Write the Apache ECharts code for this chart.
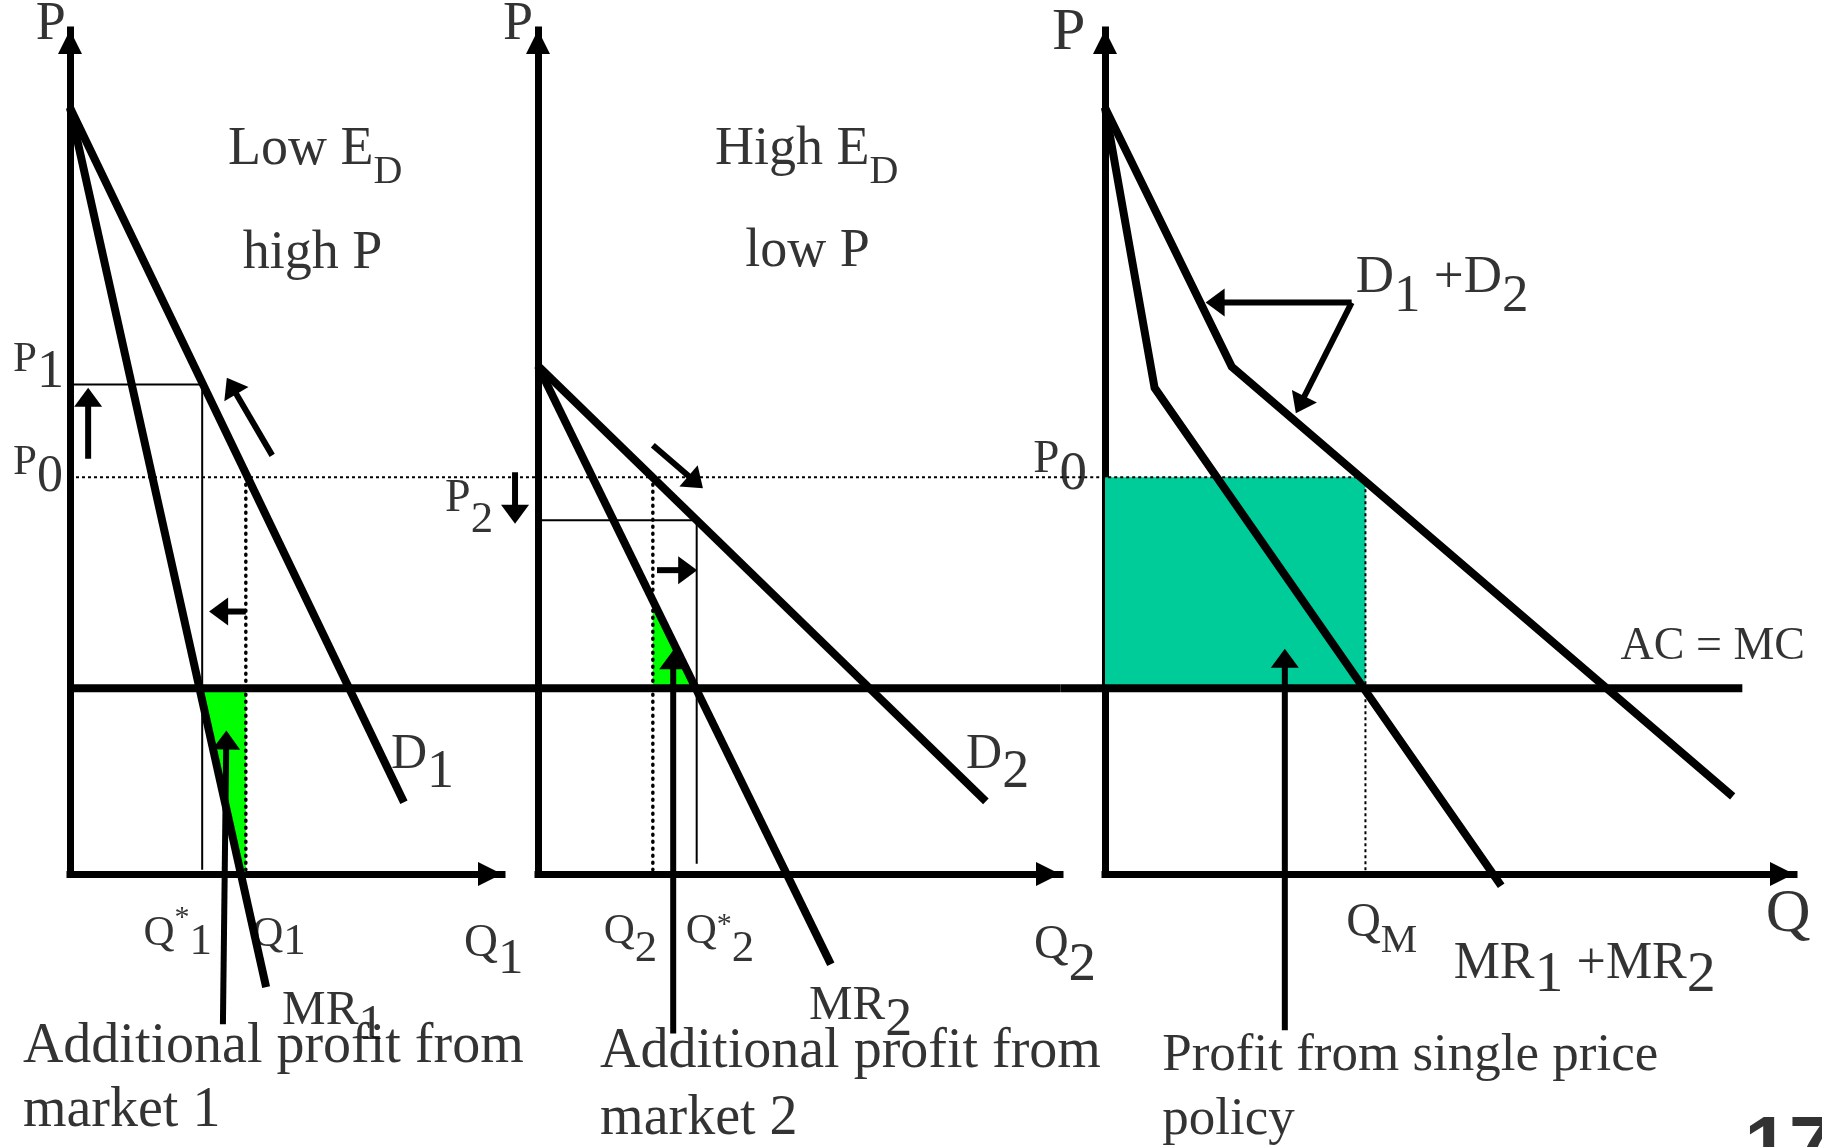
<!DOCTYPE html>
<html>
<head>
<meta charset="utf-8">
<title>Price discrimination between two markets</title>
<script src="https://cdn.jsdelivr.net/npm/echarts@6.0.0/dist/echarts.min.js"></script>
<style>
  html, body { margin: 0; padding: 0; background: #fff; }
  #chart { width: 1822px; height: 1147px; }
</style>
</head>
<body>
<div id="chart"></div>
<script>
// values: Q (quantity) and P (price), every axis runs 0..100
const mcLevel = 22;   // AC = MC
const p0Level = 47;   // single price P0

// market 1 - low elasticity
const d1Q = [0, 77.3];
const d1P = [90.8, 8.5];
const mr1Q = [0, 45.4];
const mr1P = [90.8, -13.4];
const p1Level = 58;
const q1Star = 30.6;
const q1Single = 40.7;
const gain1Q = [30.0, 40.7, 40.7, 39.6];
const gain1P = [22, 22, 0.3, 0.3];

// market 2 - high elasticity
const d2Q = [0, 85.8];
const d2P = [60.2, 8.6];
const mr2Q = [0, 56.1];
const mr2P = [60.2, -10.7];
const p2Level = 41.9;
const q2Star = 30.4;
const q2Single = 22;
const gain2Q = [22, 22, 30.2];
const gain2P = [32.4, 22, 22];

// both markets together
const dSumQ = [0, 18.4, 91.1];
const dSumP = [90.8, 60.1, 9.2];
const mrSumQ = [0, 7.2, 57.5];
const mrSumP = [90.8, 57.6, -1.4];
const qM = 37.8;

// how far the MC line and the dotted P0 line run in each panel (Q units)
const mcSpan = [[0, 100], [-6.9, 100], [-6.5, 92.5]];
const p0Span = [[0, 100], [-6.9, 100], [-6.5, qM]];

// arrows: [q from, p from, q to, p to]
const arrows1 = [[4.2, 49.2, 4.2, 57.6], [46.8, 49.6, 36.3, 58.8], [40.7, 31.1, 32.2, 31.1], [35.4, -17.8, 36.2, 17.0]];
const arrows2 = [[-4.4, 47.6, -4.4, 41.5], [22.0, 50.8, 31.6, 45.7], [22.8, 36.0, 30.5, 36.0], [25.9, -18.9, 25.9, 26.5]];
const arrows3 = [[35.8, 67.7, 14.6, 67.7], [35.8, 67.7, 27.7, 54.6], [26.1, -18.5, 26.1, 26.7]];

// text: anchor (top-left) in data units, then [text, font size, drop]
const notes = [
  { panel: 0, at: [-7.9, 103.8], parts: [['P', 54, 0]] },
  { panel: 0, at: [36.6, 89.0], parts: [['Low E', 54, 0], ['D', 40, 30]] },
  { panel: 0, at: [40.0, 76.7], parts: [['high P', 54, 0]] },
  { panel: 0, at: [-13.2, 63.5], parts: [['P', 43, 0], ['1', 54, 8]] },
  { panel: 0, at: [-13.2, 51.3], parts: [['P', 43, 0], ['0', 52, 10]] },
  { panel: 0, at: [74.3, 17.1], parts: [['D', 50, 0], ['1', 54, 16]] },
  { panel: 0, at: [17.0, -3.4], parts: [['Q', 43, 10], ['*', 30, 0], ['1', 45, 17]] },
  { panel: 0, at: [42.2, -4.6], parts: [['Q', 43, 0], ['1', 45, 7]] },
  { panel: 0, at: [91.2, -5.5], parts: [['Q', 47, 0], ['1', 51, 14]] },
  { panel: 0, at: [49.1, -13.3], parts: [['MR', 49, 0], ['1', 51, 14]] },
  { panel: 0, at: [-10.9, -17.2], parts: [['Additional profit from', 56, 0]] },
  { panel: 0, at: [-10.9, -24.8], parts: [['market 1', 56, 0]] },

  { panel: 1, at: [-6.7, 103.8], parts: [['P', 54, 0]] },
  { panel: 1, at: [33.9, 89.0], parts: [['High E', 54, 0], ['D', 40, 30]] },
  { panel: 1, at: [39.7, 76.9], parts: [['low P', 54, 0]] },
  { panel: 1, at: [-17.8, 47.2], parts: [['P', 46, 0], ['2', 45, 22]] },
  { panel: 1, at: [82.0, 17.1], parts: [['D', 50, 0], ['2', 54, 16]] },
  { panel: 1, at: [12.6, -4.3], parts: [['Q', 43, 0], ['2', 45, 16]] },
  { panel: 1, at: [28.3, -4.3], parts: [['Q', 43, 0], ['*', 30, 0], ['2', 45, 16]] },
  { panel: 1, at: [95.0, -5.6], parts: [['Q', 48, 0], ['2', 55, 17]] },
  { panel: 1, at: [51.9, -12.7], parts: [['MR', 49, 0], ['2', 54, 13]] },
  { panel: 1, at: [11.9, -17.8], parts: [['Additional profit from', 56, 0]] },
  { panel: 1, at: [11.9, -25.7], parts: [['market 2', 56, 0]] },

  { panel: 2, at: [-7.7, 103.2], parts: [['P', 60, 0]] },
  { panel: 2, at: [-10.4, 51.9], parts: [['P', 47, 0], ['0', 55, 11]] },
  { panel: 2, at: [36.4, 73.7], parts: [['D', 53, 0], ['1', 53, 19], [' +D', 53, 0], ['2', 53, 19]] },
  { panel: 2, at: [101.6, 29.6], parts: [['AC = MC', 46, 0]], align: 'right' },
  { panel: 2, at: [35.0, -3.0], parts: [['Q', 48, 0], ['M', 41, 21]] },
  { panel: 2, at: [95.9, -1.2], parts: [['Q', 62, 0]] },
  { panel: 2, at: [50.6, -7.6], parts: [['MR', 52, 0], ['1', 58, 9], [' +MR', 52, 0], ['2', 58, 9]] },
  { panel: 2, at: [8.3, -18.4], parts: [['Profit from single price', 53, 0]] },
  { panel: 2, at: [8.3, -26.0], parts: [['policy', 53, 0]] },
  { panel: 2, at: [92.8, -28.0], parts: [['17', 80, 0]], sans: true }
];

const SERIF = '"Liberation Serif", "Times New Roman", serif';
const SANS = '"Liberation Sans", Arial, sans-serif';

const zip = (qs, ps) => qs.map((q, i) => [q, ps[i]]);

const grids = [
  { left: 70, top: 30, width: 432, height: 844 },
  { left: 538, top: 30, width: 522, height: 844 },
  { left: 1105, top: 30, width: 689, height: 844 }
];

const axisLine = {
  show: true,
  onZero: false,
  symbol: ['none', 'triangle'],
  symbolSize: [24, 24],
  symbolOffset: [0, -12],
  lineStyle: { color: '#000', width: 7, cap: 'square' }
};

function makeAxis(i) {
  return {
    gridIndex: i, type: 'value', min: 0, max: 100,
    axisLine: axisLine,
    axisTick: { show: false },
    axisLabel: { show: false },
    splitLine: { show: false }
  };
}

function line(panel, pts, style, z) {
  return {
    type: 'line', xAxisIndex: panel, yAxisIndex: panel,
    data: pts, symbol: 'none', clip: false, silent: true, z: z || 3,
    lineStyle: Object.assign({ color: '#000', width: 8, join: 'miter' }, style)
  };
}

// straight runs that may start left of a panel's own P axis
function spans(panel, list, style, z) {
  return {
    type: 'custom', xAxisIndex: panel, yAxisIndex: panel, clip: false, silent: true, z: z,
    encode: { x: [0, 2], y: [1, 3] },
    data: list,
    renderItem: function (params, api) {
      const a = api.coord([api.value(0), api.value(1)]);
      const b = api.coord([api.value(2), api.value(3)]);
      return {
        type: 'line',
        shape: { x1: a[0], y1: a[1], x2: b[0], y2: b[1] },
        style: Object.assign({ stroke: '#000' }, style)
      };
    }
  };
}

function area(panel, pts, color) {
  return {
    type: 'custom', xAxisIndex: panel, yAxisIndex: panel, clip: false, silent: true, z: 1,
    data: [[0, 0]],
    renderItem: function (params, api) {
      return {
        type: 'polygon',
        shape: { points: pts.map(p => api.coord(p)) },
        style: { fill: color }
      };
    }
  };
}

function arrows(panel, list) {
  return {
    type: 'custom', xAxisIndex: panel, yAxisIndex: panel, clip: false, silent: true, z: 4,
    encode: { x: [0, 2], y: [1, 3] },
    data: list,
    renderItem: function (params, api) {
      const a = api.coord([api.value(0), api.value(1)]);
      const b = api.coord([api.value(2), api.value(3)]);
      const dx = b[0] - a[0], dy = b[1] - a[1];
      const len = Math.hypot(dx, dy);
      const ux = dx / len, uy = dy / len;
      const hl = 19, hw = 14;
      const bx = b[0] - ux * hl, by = b[1] - uy * hl;
      return {
        type: 'group',
        children: [
          { type: 'line', shape: { x1: a[0], y1: a[1], x2: bx + ux * 2, y2: by + uy * 2 }, style: { stroke: '#000', lineWidth: 6 } },
          { type: 'polygon', shape: { points: [b, [bx - uy * hw, by + ux * hw], [bx + uy * hw, by - ux * hw]] }, style: { fill: '#000' } }
        ]
      };
    }
  };
}

function textSeries(panel) {
  const items = notes.filter(n => n.panel === panel).map(n => {
    const rich = {};
    const fmt = n.parts.map((p, i) => {
      rich['t' + i] = {
        fontFamily: n.sans ? SANS : SERIF,
        fontWeight: n.sans ? 'bold' : 'normal',
        fontSize: p[1], lineHeight: p[1],
        verticalAlign: 'top', color: '#000',
        padding: [p[2], 0, 0, 0]
      };
      return '{t' + i + '|' + p[0] + '}';
    }).join('');
    return {
      value: n.at,
      label: { show: true, position: [0, 0], align: n.align || 'left', verticalAlign: 'top', formatter: fmt, rich: rich }
    };
  });
  return {
    type: 'scatter', xAxisIndex: panel, yAxisIndex: panel,
    symbolSize: 0, clip: false, silent: true, z: 6,
    data: items
  };
}

const thin = { width: 2 };
const dotsFine = { width: 2, type: [3, 3] };
const dotsBold = { width: 3.5, type: [1, 6], cap: 'round' };
const mcStyle = { lineWidth: 8 };
const p0Style = { lineWidth: 2, lineDash: [3, 3] };

const series = [
  // fills
  area(0, zip(gain1Q, gain1P), '#00FF00'),
  area(1, zip(gain2Q, gain2P), '#00FF00'),
  area(2, [[0, mcLevel], [qM, mcLevel], [qM, p0Level], [0, p0Level]], '#00CC99'),

  // guide lines
  line(0, [[0, p1Level], [q1Star, p1Level], [q1Star, 0.5]], thin, 2),
  line(1, [[0, p2Level], [q2Star, p2Level], [q2Star, 1.2]], thin, 2),
  line(0, [[q1Single, p0Level], [q1Single, 0.5]], dotsBold, 2),
  line(1, [[q2Single, p0Level], [q2Single, 0.5]], dotsBold, 2),
  line(2, [[qM, p0Level], [qM, 0]], dotsFine, 2),
  spans(0, [[p0Span[0][0], p0Level, p0Span[0][1], p0Level]], p0Style, 2),
  spans(1, [[p0Span[1][0], p0Level, p0Span[1][1], p0Level]], p0Style, 2),
  spans(2, [[p0Span[2][0], p0Level, p0Span[2][1], p0Level]], p0Style, 2),

  // AC = MC
  spans(0, [[mcSpan[0][0], mcLevel, mcSpan[0][1], mcLevel]], mcStyle, 3),
  spans(1, [[mcSpan[1][0], mcLevel, mcSpan[1][1], mcLevel]], mcStyle, 3),
  spans(2, [[mcSpan[2][0], mcLevel, mcSpan[2][1], mcLevel]], mcStyle, 3),

  // demand and marginal revenue
  line(0, zip(d1Q, d1P), {}),
  line(0, zip(mr1Q, mr1P), {}),
  line(1, zip(d2Q, d2P), {}),
  line(1, zip(mr2Q, mr2P), {}),
  line(2, zip(dSumQ, dSumP), {}),
  line(2, zip(mrSumQ, mrSumP), {}),

  arrows(0, arrows1),
  arrows(1, arrows2),
  arrows(2, arrows3),

  textSeries(0),
  textSeries(1),
  textSeries(2)
];

const chart = echarts.init(document.getElementById('chart'));
chart.setOption({
  backgroundColor: '#fff',
  animation: false,
  grid: grids.map(g => Object.assign({ outerBoundsMode: 'none', containLabel: false }, g)),
  xAxis: [0, 1, 2].map(makeAxis),
  yAxis: [0, 1, 2].map(makeAxis),
  series: series
});
</script>
</body>
</html>
